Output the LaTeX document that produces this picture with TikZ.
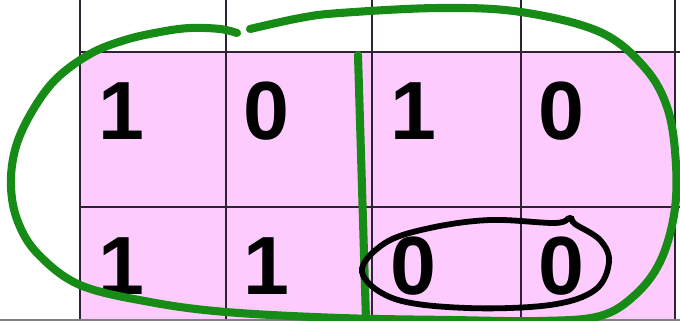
\documentclass[tikz,border=0pt]{standalone}
\usepackage{fontspec}
\setmainfont{Liberation Sans}
\usepackage{tikz}
\usepackage{xcolor}
\usetikzlibrary{positioning, calc}
\definecolor{kpink}{HTML}{FDCBFD}
\definecolor{kgreen}{RGB}{22,140,22}
\definecolor{kgrid}{RGB}{45,35,50}
\tikzset{
    kDigit/.style={inner sep=0pt, font=\fontsize{47}{47}\selectfont\bfseries},
    gridLine/.style={draw=kgrid, line width=1.1pt},
    greenLoop/.style={draw=kgreen, line width=4.6pt, line cap=round},
    blackLoop/.style={draw=black, line width=3.3pt, line cap=round}
}
\begin{document}
\begin{tikzpicture}[x=0.02cm, y=-0.02cm]
    \useasboundingbox (0,0) rectangle (680,321);
    \fill[white] (0,0) rectangle (680,321);
    \fill[kpink] (80,52) rectangle (675,321);
    \foreach \x in {80,226,372,521,675} \draw[gridLine] (\x,0)--(\x,321);
    \foreach \y in {52,207} \draw[gridLine] (80,\y)--(680,\y);
    \draw[gray, line width=1pt] (0,320)--(680,320);
    \node[kDigit] (m11) at (121,111) {1};
    \node[kDigit] (m12) at (266,111) {0};
    \node[kDigit] (m13) at (413,111) {1};
    \node[kDigit] (m14) at (561,111) {0};
    \node[kDigit] (m21) at (121,266) {1};
    \node[kDigit] (m22) at (266,266) {1};
    \node[kDigit] (m23) at (413,266) {0};
    \node[kDigit] (m24) at (561,266) {0};
    \draw[greenLoop] plot[smooth, tension=0.6] coordinates {(250,29) (300,18) (340,13) (440,8) (521,12)
        (600,32) (645,68) (668,110) (676,165) (674,215) (660,262) (635,295) (600,316) (540,321)
        (450,320) (340,318) (226,312) (150,302) (80,285) (38,254) (18,222) (11,187) (15,150)
        (30,115) (55,80) (90,54) (125,40) (160,32) (190,28) (220,29) (237,33)};
    \draw[greenLoop] (358,55)--(366,320);
    \draw[blackLoop] plot[smooth cycle, tension=0.6] coordinates {(362,272) (385,243) (430,228)
        (490,220) (555,223) (570,218) (575,224) (600,240) (609,262) (595,290) (550,305) (467,308)
        (395,299)};
\end{tikzpicture}
\end{document}
